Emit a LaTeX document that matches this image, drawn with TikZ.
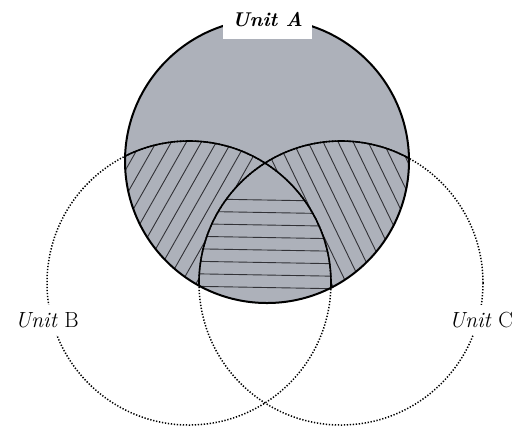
\documentclass[tikz,border=0pt]{standalone}
\usepackage{fontspec}
\definecolor{regfill}{RGB}{173,177,186}
\definecolor{hatchcol}{RGB}{50,50,55}
\begin{document}
\begin{tikzpicture}[x=1bp,y=-1bp,
  hatchline/.style={draw=hatchcol,line width=0.9bp},
  dotcirc/.style={draw=black,line width=1.5bp,dash pattern=on 1.3bp off 1.7bp},
  innerarc/.style={draw=black,line width=1.6bp},
  outerA/.style={draw=black,line width=2bp},
  lab/.style={font=\fontsize{22}{26}\selectfont,inner sep=0pt}]
\useasboundingbox (0,0) rectangle (519,428);
\coordinate (cA) at (267,161);
\coordinate (cB) at (189,283);
\coordinate (cC) at (341,283);
% Unit A body
\fill[regfill] (cA) circle[radius=142bp];
% left hatching A and B
\begin{scope}
  \clip (cA) circle[radius=142bp];
  \clip (cB) circle[radius=142bp];
  \foreach \k in {-2,...,13} {
    \draw[hatchline] ({153+15*\k-21*5},{148+37*5}) -- ({153+15*\k+21*2},{148-37*2});
  }
\end{scope}
% right hatching A and C
\begin{scope}
  \clip (cA) circle[radius=142bp];
  \clip (cC) circle[radius=142bp];
  \foreach \k in {-8,...,9} {
    \draw[hatchline] ({298+15*\k-57},{152-118}) -- ({298+15*\k+57*2},{152+118*2});
  }
\end{scope}
% centre region
\begin{scope}
  \clip (cA) circle[radius=142bp];
  \clip (cB) circle[radius=142bp];
  \clip (cC) circle[radius=142bp];
  \fill[regfill] (cA) circle[radius=142bp];
  \foreach \y in {198,210.5,223,235.5,248,260.5,273,285.5} {
    \draw[hatchline] (150,\y) -- (380,{\y+4});
  }
\end{scope}
% outer dotted circles
\draw[dotcirc] (cB) circle[radius=142bp];
\draw[dotcirc] (cC) circle[radius=142bp];
% solid arcs inside A
\begin{scope}
  \clip (cA) circle[radius=142bp];
  \draw[innerarc] (cB) circle[radius=142bp];
  \draw[innerarc] (cC) circle[radius=142bp];
\end{scope}
\draw[outerA] (cA) circle[radius=142bp];
% labels
\node[lab,fill=white,minimum width=89bp,minimum height=39bp,font=\fontsize{20}{24}\selectfont\bfseries\itshape] (labA) at (267.5,19.5) {Unit A};
\node[lab,fill=white,inner xsep=4bp,inner ysep=7bp] (labB) at (47,320) {\textit{Unit} B};
\node[lab,fill=white,inner xsep=4bp,inner ysep=7bp] (labC) at (481,320) {\textit{Unit} C};
\end{tikzpicture}
\end{document}
